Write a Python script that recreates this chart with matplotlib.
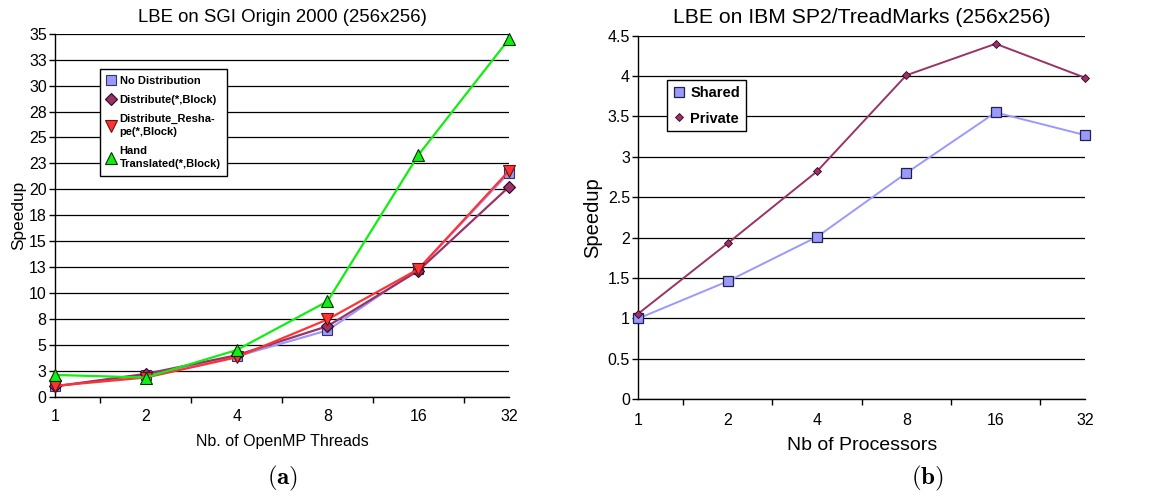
import matplotlib
matplotlib.use("Agg")
import matplotlib.pyplot as plt
from matplotlib.ticker import FixedLocator, NullFormatter

plt.rcParams['font.family'] = ['Liberation Sans', 'DejaVu Sans']
plt.rcParams['mathtext.fontset'] = 'cm'

# ---- data ----
threads = ["1", "2", "4", "8", "16", "32"]
no_dist = [1.0, 2.1, 3.9, 6.4, 12.3, 21.6]
dist_block = [1.0, 2.2, 4.0, 6.8, 12.15, 20.25]
dist_reshape = [1.05, 1.85, 3.8, 7.45, 12.3, 21.8]
hand_trans = [2.1, 1.85, 4.5, 9.2, 23.3, 34.5]
left_yticks = [0, 2.5, 5, 7.5, 10, 12.5, 15, 17.5, 20, 22.5, 25, 27.5, 30, 32.5, 35]
left_ylabels = ["0", "3", "5", "8", "10", "13", "15", "18", "20", "23", "25", "28", "30", "33", "35"]

procs = ["1", "2", "4", "8", "16", "32"]
shared = [1.0, 1.46, 2.01, 2.80, 3.55, 3.27]
private = [1.06, 1.93, 2.82, 4.01, 4.40, 3.98]
right_yticks = [0, 0.5, 1, 1.5, 2, 2.5, 3, 3.5, 4, 4.5]
right_ylabels = ["0", "0.5", "1", "1.5", "2", "2.5", "3", "3.5", "4", "4.5"]

fig = plt.figure(figsize=(11.49, 4.97), dpi=100)

def style_axis(ax, n, yticks, ylabels, fs, xpad):
    ax.set_xlim(0, n - 1)
    ax.set_ylim(yticks[0], yticks[-1])
    for s in ['top', 'right']:
        ax.spines[s].set_visible(False)
    for s in ['left', 'bottom']:
        ax.spines[s].set_linewidth(1.0)
        ax.spines[s].set_color('black')
    ax.set_yticks(yticks)
    ax.set_yticklabels(ylabels, fontsize=fs)
    ax.yaxis.grid(True, color='black', linewidth=0.9)
    ax.set_axisbelow(True)
    ax.xaxis.set_major_locator(FixedLocator([i + 0.5 for i in range(n - 1)]))
    ax.xaxis.set_major_formatter(NullFormatter())
    ax.xaxis.set_minor_locator(FixedLocator(list(range(n))))
    ax.tick_params(axis='x', which='major', length=4, width=1, direction='out')
    ax.tick_params(axis='x', which='minor', length=0, pad=xpad, labelsize=fs)
    ax.tick_params(axis='y', length=4, width=1, direction='out', pad=2)

# ---- left chart ----
ax1 = fig.add_axes([0.0479, 0.2018, 0.3952, 0.7302])
xs = list(range(len(threads)))
ax1.plot(xs, no_dist, color='#9999FF', lw=1.6, marker='s', ms=7, mfc='#9999FF', mec='#333366', mew=0.8, label='No Distribution', clip_on=False, zorder=3)
ax1.plot(xs, dist_block, color='#993366', lw=1.6, marker='D', ms=6, mfc='#993366', mec='#330022', mew=0.8, label='Distribute(*,Block)', clip_on=False, zorder=4)
ax1.plot(xs, dist_reshape, color='#FF3333', lw=1.6, marker='v', ms=8, mfc='#FF3333', mec='#661111', mew=0.8, label='Distribute_Resha-\npe(*,Block)', clip_on=False, zorder=5)
ax1.plot(xs, hand_trans, color='#11EE11', lw=1.6, marker='^', ms=8, mfc='#11EE11', mec='#003300', mew=0.8, label='Hand\nTranslated(*,Block)', clip_on=False, zorder=6)
style_axis(ax1, len(threads), left_yticks, left_ylabels, 11.5, 9)
ax1.set_xticks(xs, minor=True)
ax1.set_xticklabels(threads, minor=True)
ax1.set_title("LBE on SGI Origin 2000 (256x256)", fontsize=13.4, pad=8.5)
ax1.set_xlabel("Nb. of OpenMP Threads", fontsize=11.5, labelpad=7)
ax1.set_ylabel("Speedup", fontsize=12.4, labelpad=2)
leg1 = ax1.legend(loc='upper left', bbox_to_anchor=(0.098, 0.902), prop={'weight': 'bold', 'size': 8},
                  frameon=True, fancybox=False, edgecolor='black', framealpha=1,
                  handlelength=0.8, handletextpad=0.4, borderpad=0.6, labelspacing=0.8,
                  borderaxespad=0)
leg1.get_frame().set_linewidth(1.0)
for t in leg1.get_texts():
    t.set_linespacing(1.4)
for h in leg1.legend_handles:
    h.set_linestyle('none')

# ---- right chart ----
ax2 = fig.add_axes([0.5555, 0.1966, 0.3888, 0.7316])
xs2 = list(range(len(procs)))
ax2.plot(xs2, shared, color='#9999FF', lw=1.4, marker='s', ms=7, mfc='#9999FF', mec='#222244', mew=0.9, label='Shared', clip_on=False, zorder=3)
ax2.plot(xs2, private, color='#993366', lw=1.4, marker='D', ms=4.5, mfc='#993366', mec='#330022', mew=0.6, label='Private', clip_on=False, zorder=4)
style_axis(ax2, len(procs), right_yticks, right_ylabels, 11.5, 10)
ax2.set_xticks(xs2, minor=True)
ax2.set_xticklabels(procs, minor=True)
ax2.set_title("LBE on IBM SP2/TreadMarks (256x256)", fontsize=15.2, pad=9)
ax2.set_xlabel("Nb of Processors", fontsize=14, labelpad=6)
ax2.set_ylabel("Speedup", fontsize=14.5, labelpad=4)
leg2 = ax2.legend(loc='upper left', bbox_to_anchor=(0.064, 0.878), prop={'weight': 'bold', 'size': 10.5},
                  frameon=True, fancybox=False, edgecolor='black', framealpha=1,
                  handlelength=0.8, handletextpad=0.4, borderpad=0.4, labelspacing=0.8,
                  borderaxespad=0)
leg2.get_frame().set_linewidth(1.0)
for h in leg2.legend_handles:
    h.set_linestyle('none')

fig.text(0.246, 0.038, r'$\mathbf{(a)}$', ha='center', va='center', fontsize=18)
fig.text(0.807, 0.038, r'$\mathbf{(b)}$', ha='center', va='center', fontsize=18)

fig.savefig("out.png", dpi=100)
